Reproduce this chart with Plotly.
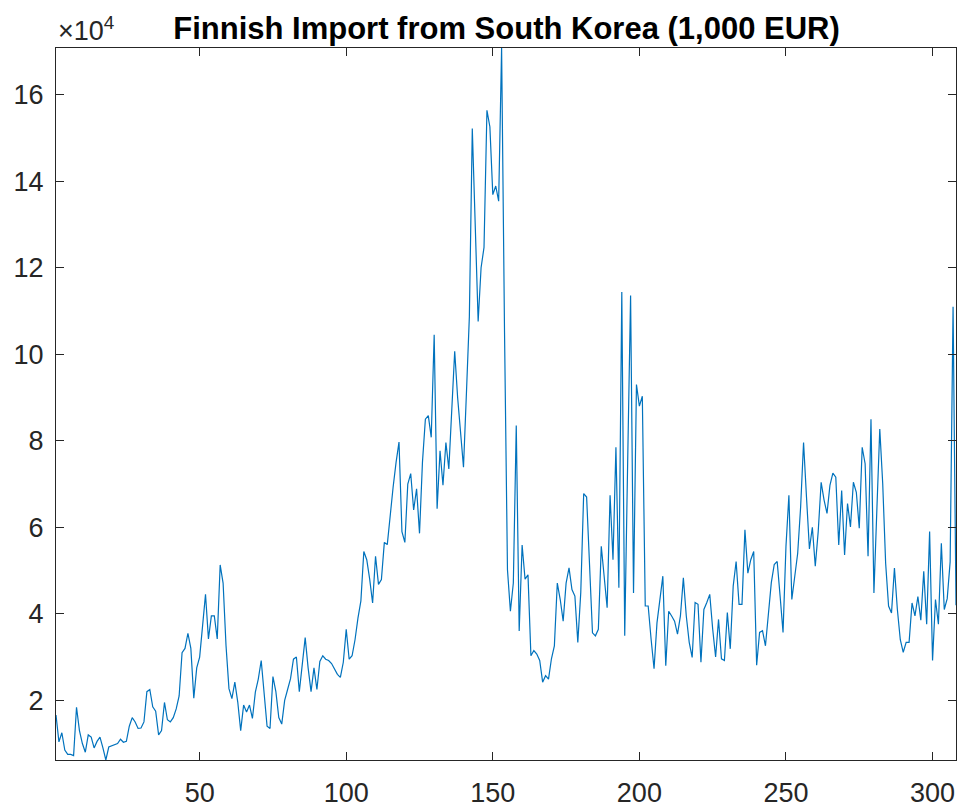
import plotly.graph_objects as go

# Monthly values, in units of 10^4 (1,000 EUR)
values_1e4 = [
    1.66, 1.04, 1.25, 0.85, 0.75, 0.75, 0.72, 1.84, 1.30, 1.00,
    0.80, 1.20, 1.15, 0.90, 1.05, 1.15, 0.90, 0.62, 0.92, 0.95,
    0.97, 1.00, 1.10, 1.03, 1.05, 1.40, 1.60, 1.50, 1.35, 1.36,
    1.50, 2.20, 2.25, 1.85, 1.75, 1.20, 1.30, 1.95, 1.55, 1.50,
    1.60, 1.80, 2.10, 3.10, 3.20, 3.55, 3.20, 2.05, 2.75, 3.00,
    3.72, 4.45, 3.42, 3.95, 3.95, 3.42, 5.13, 4.71, 3.26, 2.27,
    2.04, 2.42, 1.96, 1.30, 1.89, 1.73, 1.89, 1.58, 2.19, 2.49,
    2.92, 2.19, 1.40, 1.35, 2.55, 2.20, 1.60, 1.45, 2.00, 2.25,
    2.50, 2.95, 3.00, 2.20, 2.90, 3.45, 2.75, 2.20, 2.75, 2.25,
    2.90, 3.03, 2.95, 2.92, 2.85, 2.73, 2.60, 2.53, 2.88, 3.64,
    2.95, 3.03, 3.40, 3.90, 4.30, 5.44, 5.25, 4.80, 4.25, 5.33,
    4.68, 4.79, 5.65, 5.60, 6.30, 6.93, 7.50, 7.97, 5.90, 5.65,
    7.00, 7.24, 6.40, 6.89, 5.86, 7.50, 8.50, 8.58, 8.08, 10.45,
    6.43, 7.77, 6.97, 7.96, 7.35, 8.70, 10.07, 9.00, 8.20, 7.39,
    9.10, 10.87, 15.22, 13.00, 10.76, 12.00, 12.47, 15.64, 15.26, 13.69,
    13.89, 13.54, 17.08, 10.50, 5.02, 4.06, 4.71, 8.35, 3.60, 5.59,
    4.80, 4.90, 3.03, 3.15, 3.07, 2.92, 2.42, 2.57, 2.49, 2.96,
    3.26, 4.71, 4.33, 3.83, 4.71, 5.06, 4.56, 4.41, 3.34, 4.49,
    6.78, 6.70, 5.17, 3.56, 3.49, 3.64, 5.56, 4.87, 4.14, 6.74,
    5.25, 7.85, 4.60, 11.44, 3.49, 7.50, 11.36, 4.48, 9.30, 8.80,
    9.03, 4.18, 4.18, 3.41, 2.73, 3.79, 4.33, 4.87, 2.80, 4.06,
    3.95, 3.83, 3.53, 3.95, 4.83, 3.95, 3.34, 2.99, 4.26, 4.22,
    2.88, 4.10, 4.26, 4.45, 3.65, 3.00, 3.87, 2.96, 2.92, 4.03,
    3.19, 4.64, 5.21, 4.22, 4.22, 5.94, 4.94, 5.25, 5.44, 2.81,
    3.57, 3.61, 3.26, 4.03, 4.72, 5.14, 5.21, 4.41, 3.57, 5.56,
    6.74, 4.33, 4.87, 5.40, 6.47, 7.96, 6.70, 5.50, 6.00, 5.10,
    5.90, 7.04, 6.63, 6.32, 6.97, 7.25, 7.16, 5.59, 6.85, 5.36,
    6.55, 6.01, 7.04, 6.81, 5.98, 7.85, 7.47, 5.33, 8.50, 4.48,
    6.40, 8.27, 7.01, 5.17, 4.18, 4.02, 5.06, 4.10, 3.40, 3.11,
    3.34, 3.34, 4.25, 3.95, 4.40, 3.85, 4.98, 3.76, 5.90, 2.92,
    4.33, 3.76, 5.63, 4.10, 4.35, 5.20, 11.10, 4.20,
]
scale = 1e4
values = [v * scale for v in values_1e4]
months = list(range(1, len(values) + 1))

x_ticks = [50, 100, 150, 200, 250, 300]
y_ticks = [2, 4, 6, 8, 10, 12, 14, 16]
y_tick_labels = [str(t) for t in y_ticks]

title_text = "Finnish Import from South Korea (1,000 EUR)"

axis_color = "#262626"
font_family = "Liberation Sans, Arial, sans-serif"
tick_size = 27

fig = go.Figure()
fig.add_trace(go.Scatter(
    x=months, y=values, mode="lines",
    line=dict(color="#0072BD", width=1.2),
    showlegend=False, hoverinfo="x+y",
))

fig.update_layout(
    width=960, height=811,
    margin=dict(l=56, r=3, t=48, b=46),
    paper_bgcolor="white", plot_bgcolor="white",
    font=dict(family=font_family, size=tick_size, color=axis_color),
    title=dict(text="<b>" + title_text + "</b>",
               x=(56 + 957) / 2 / 960, xanchor="center",
               y=1 - 28 / 811, yanchor="middle",
               font=dict(size=31, color="black", family=font_family)),
)

fig.update_xaxes(
    range=[1, len(values)],
    tickvals=x_ticks,
    ticks="inside", ticklen=8, tickwidth=1, tickcolor=axis_color,
    showline=True, linecolor=axis_color, linewidth=1, mirror="ticks",
    showgrid=False, zeroline=False,
    tickfont=dict(size=tick_size, color=axis_color),
    ticklabelstandoff=9,
)
fig.update_yaxes(
    range=[min(values), max(values)],
    tickvals=[t * scale for t in y_ticks], ticktext=y_tick_labels,
    ticks="inside", ticklen=8, tickwidth=1, tickcolor=axis_color,
    showline=True, linecolor=axis_color, linewidth=1, mirror="ticks",
    showgrid=False, zeroline=False,
    tickfont=dict(size=tick_size, color=axis_color),
    ticklabelstandoff=6,
)

fig.add_annotation(
    text="×10<sup>4</sup>", xref="paper", yref="paper",
    x=0, y=1, xanchor="left", yanchor="bottom", yshift=0,
    showarrow=False, font=dict(size=tick_size, color=axis_color, family=font_family),
)

fig.write_html("out.html")
